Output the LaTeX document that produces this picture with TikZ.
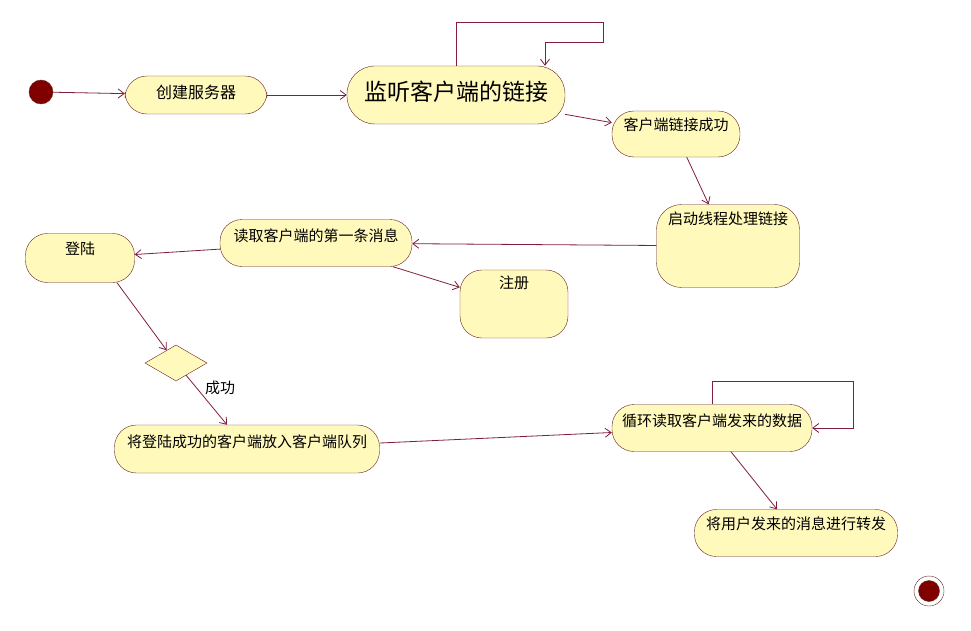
\documentclass[tikz,border=0pt]{standalone}
\usepackage{fontspec}
\newfontfamily\cjk{Noto Sans CJK SC}
\usepackage{xcolor}
\usetikzlibrary{arrows.meta,
shapes.geometric,
calc}

\definecolor{actfill}{RGB}{255,249,188}
\definecolor{actline}{RGB}{100,36,36}
\definecolor{flowline}{RGB}{128,30,60}
\definecolor{dotred}{RGB}{128,0,0}

\begin{document}
\begin{tikzpicture}[
x=1pt, y=-1pt,
>={Straight Barb[length=6pt,width=9pt]},
act/.style={
draw=actline,
fill=actfill,
rounded corners=22pt,
inner sep=0pt,
text height=11pt,
font=\cjk\fontsize{15}{17}\selectfont
},
choice/.style={
draw=actline,
fill=actfill,
diamond,
aspect=1.7,
inner sep=0pt,
minimum width=62pt,
minimum height=36pt
},
flow/.style={
draw=flowline,
line width=0.8pt,
->
},
dot/.style={
circle,
fill=dotred,
draw=actline,
inner sep=0pt
}
]
\useasboundingbox (0,0) rectangle (971,631);

% Top row
\node[dot, minimum size=24pt] (start) at (41,92) {};
\node[act, minimum width=142pt, minimum height=38pt, text depth=3pt,
font=\cjk\fontsize{16}{18}\selectfont] (create) at (196,95) {创建服务器};
\node[act, minimum width=218pt, minimum height=58pt, rounded corners=28pt,
text height=17pt, text depth=5pt,
font=\cjk\fontsize{23}{25}\selectfont] (listen) at (456,95) {监听客户端的链接};
\node[act, minimum width=128pt, minimum height=46pt, text depth=17pt] (linked) at (676,134) {客户端链接成功};

% Middle
\node[act, minimum width=143pt, minimum height=83pt, rounded corners=25pt, text depth=55pt] (thread) at (728,246) {启动线程处理链接};
\node[act, minimum width=192pt, minimum height=47pt, text depth=15pt] (readfirst) at (316,243) {读取客户端的第一条消息};
\node[act, minimum width=109pt, minimum height=49pt, text depth=19pt] (login) at (80,258) {登陆};
\node[act, minimum width=108pt, minimum height=68pt, text depth=43pt] (register) at (514,304) {注册};
\node[choice] (check) at (176,363) {};

% Bottom
\node[act, minimum width=265pt, minimum height=48pt, text depth=15pt] (queue) at (247,449) {将登陆成功的客户端放入客户端队列};
\node[act, minimum width=200pt, minimum height=47pt, text depth=15pt] (readloop) at (712,428) {循环读取客户端发来的数据};
\node[act, minimum width=203pt, minimum height=47pt, text depth=19pt] (forward) at (796,533) {将用户发来的消息进行转发};

% End
\node[circle, draw=actline, fill=white, minimum size=30pt, inner sep=0pt] (stop) at (929,591) {};
\node[dot, minimum size=21pt] (stopin) at (stop) {};

% Loop corners
\coordinate (listenA) at (603,22);
\coordinate (listenB) at (545,42);
\coordinate (readA) at (853,381);

% Connections
\draw[flow] (start) -- (create);
\draw[flow] (create) -- (listen);
\draw[flow] (listen.north) |- (listenA) |- (listenB) -- (listenB |- listen.north);
\draw[flow] (listen) -- (linked);
\draw[flow] (linked) -- (thread);
\draw[flow] (thread) -- (readfirst);
\draw[flow] (readfirst) -- (login);
\draw[flow] (readfirst) -- (register);
\draw[flow] ([xshift=37pt]login.south) -- (check);
\draw[flow] (check) -- node[pos=0.25, right=5pt, font=\cjk\fontsize{15}{17}\selectfont] {成功} (queue);
\draw[flow] (queue) -- (readloop);
\draw[flow] (readloop.north) |- (readA) |- (readloop.east);
\draw[flow] (readloop) -- (forward);

\end{tikzpicture}
\end{document}
